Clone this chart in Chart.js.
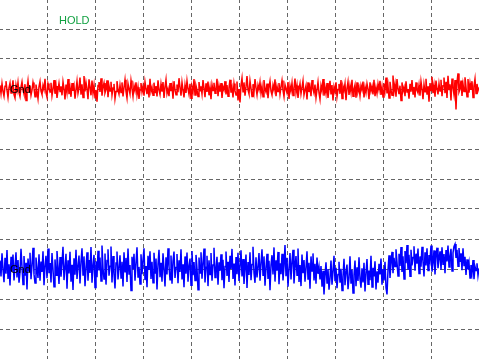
<!DOCTYPE html>
<html>
<head>
<meta charset="utf-8">
<script src="https://cdn.jsdelivr.net/npm/chart.js@4/dist/chart.umd.min.js"></script>
<style>
  html, body { margin: 0; padding: 0; background: #fff; overflow: hidden; }
  #wrap { position: absolute; left: -1px; top: -1px; width: 480px; height: 360px; }
</style>
</head>
<body>
<div id="wrap"><canvas id="scope"></canvas></div>
<script>
// screen: 10 horizontal divisions, 12 vertical divisions of 100 mV
const xDivs = 10;
const yMin = -600, yMax = 600, yStep = 100;
const sampleStep = xDivs / 480;

// CH1 samples (mV), red trace
const ch1 = [
  312, 285, 318, 292, 276, 309, 326, 296, 272, 305, 320, 287, 301, 329, 281, 270, 313, 294, 322, 288,
  275, 306, 324, 297, 283, 316, 262, 300, 327, 290, 311, 279, 296, 322, 303, 274, 315, 291, 268, 308,
  325, 293, 282, 312, 298, 334, 287, 273, 318, 304, 290, 321, 278, 300, 330, 284, 310, 270, 296, 319,
  292, 309, 279, 324, 301, 265, 315, 289, 333, 283, 305, 274, 320, 294, 311, 268, 298, 326, 286, 303,
  338, 281, 316, 272, 343, 292, 322, 300, 266, 332, 307, 279, 328, 286, 313, 271, 297, 258, 312, 323,
  290, 336, 278, 306, 320, 287, 298, 329, 273, 311, 293, 324, 280, 303, 317, 268, 292, 326, 297, 283,
  313, 288, 322, 275, 305, 331, 292, 270, 318, 300, 284, 328, 302, 276, 311, 294, 322, 281, 306, 267,
  297, 320, 290, 309, 278, 324, 300, 283, 314, 272, 334, 291, 305, 279, 321, 288, 310, 275, 329, 296,
  282, 317, 291, 323, 270, 307, 331, 285, 300, 276, 320, 293, 311, 268, 326, 297, 281, 315, 289, 336,
  305, 278, 322, 296, 272, 313, 287, 327, 300, 282, 317, 269, 307, 292, 333, 280, 311, 297, 275, 323,
  294, 309, 284, 330, 302, 273, 319, 290, 325, 279, 305, 266, 314, 295, 321, 286, 300, 334, 276, 311,
  291, 320, 270, 307, 297, 326, 282, 313, 276, 304, 331, 288, 305, 272, 318, 294, 280, 325, 262, 300,
  255, 312, 336, 291, 322, 278, 307, 343, 297, 284, 327, 302, 275, 316, 290, 333, 304, 281, 313, 298,
  323, 286, 309, 274, 330, 300, 290, 318, 269, 305, 326, 293, 280, 313, 297, 332, 276, 309, 292, 320,
  283, 307, 328, 296, 275, 314, 300, 287, 323, 267, 311, 293, 320, 278, 303, 335, 288, 312, 270, 300,
  318, 284, 305, 327, 280, 296, 311, 265, 322, 290, 307, 276, 330, 300, 286, 315, 271, 297, 323, 287,
  266, 311, 294, 333, 278, 306, 285, 320, 270, 300, 327, 282, 313, 262, 307, 291, 322, 274, 298, 317,
  284, 330, 268, 309, 296, 318, 263, 302, 324, 280, 311, 289, 331, 276, 300, 314, 271, 322, 291, 305,
  278, 312, 297, 325, 272, 307, 288, 318, 300, 266, 322, 293, 309, 282, 331, 276, 305, 285, 317, 297,
  327, 280, 307, 273, 318, 296, 338, 285, 311, 270, 324, 297, 279, 345, 292, 316, 274, 333, 300, 283,
  311, 262, 322, 293, 306, 276, 326, 290, 300, 268, 317, 291, 330, 283, 307, 272, 322, 296, 287, 313,
  278, 325, 300, 266, 315, 291, 334, 281, 309, 258, 320, 295, 341, 286, 313, 274, 328, 300, 282, 318,
  293, 331, 276, 311, 338, 286, 324, 270, 344, 298, 316, 262, 335, 305, 281, 330, 232, 322, 352, 290,
  300, 328, 277, 317, 292, 339, 306, 274, 333, 288, 320, 297, 326, 272, 311, 334, 285, 317, 294, 305
];

// CH2 samples (mV), blue trace
const ch2 = [
  -272, -325, -248, -301, -344, -263, -316, -237, -333, -284, -355, -259, -308, -252, -338, -290, -244, -328, -270, -346,
  -311, -233, -293, -352, -257, -322, -279, -368, -265, -306, -246, -334, -287, -229, -317, -347, -262, -299, -330, -251,
  -339, -275, -310, -241, -354, -289, -256, -331, -232, -314, -280, -345, -247, -302, -359, -268, -321, -240, -292, -350,
  -260, -326, -281, -226, -337, -295, -249, -366, -271, -315, -243, -342, -286, -370, -264, -319, -236, -333, -290, -255,
  -348, -276, -231, -320, -258, -357, -297, -244, -339, -270, -313, -227, -346, -288, -253, -362, -274, -327, -239, -305,
  -262, -340, -222, -298, -333, -248, -352, -272, -234, -322, -291, -225, -345, -257, -316, -365, -280, -242, -335, -296,
  -254, -330, -276, -358, -244, -309, -263, -343, -232, -319, -287, -372, -259, -301, -249, -339, -279, -228, -327, -293,
  -350, -251, -317, -270, -231, -337, -290, -361, -256, -303, -241, -333, -276, -346, -246, -313, -265, -368, -285, -236,
  -327, -279, -342, -248, -299, -358, -261, -318, -231, -291, -336, -255, -349, -274, -242, -330, -295, -250, -347, -271,
  -310, -234, -335, -284, -361, -258, -316, -245, -342, -289, -265, -354, -240, -321, -277, -338, -253, -298, -369, -262,
  -313, -244, -332, -280, -232, -345, -294, -256, -357, -271, -318, -247, -339, -287, -229, -328, -300, -259, -352, -278,
  -306, -251, -337, -269, -364, -292, -242, -323, -276, -343, -256, -300, -233, -333, -282, -355, -260, -317, -246, -340,
  -290, -238, -325, -267, -350, -297, -252, -363, -277, -320, -244, -337, -285, -226, -313, -346, -261, -328, -293, -247,
  -339, -279, -234, -321, -258, -356, -296, -249, -333, -273, -371, -287, -254, -318, -228, -342, -271, -306, -243, -351,
  -281, -317, -249, -338, -291, -220, -324, -263, -359, -299, -247, -335, -275, -236, -348, -294, -257, -321, -232, -343,
  -287, -357, -252, -314, -270, -342, -296, -241, -333, -279, -366, -258, -307, -248, -338, -283, -349, -262, -316, -292,
  -335, -290, -359, -306, -385, -322, -278, -347, -300, -369, -331, -272, -352, -307, -256, -341, -296, -364, -318, -276,
  -346, -299, -372, -325, -266, -354, -309, -285, -367, -330, -258, -349, -303, -380, -320, -272, -357, -294, -340, -261,
  -332, -362, -298, -345, -279, -375, -313, -267, -351, -305, -337, -256, -360, -296, -325, -274, -368, -308, -346, -283,
  -318, -265, -352, -300, -338, -276, -362, -385, -304, -254, -330, -280, -243, -314, -263, -292, -234, -278, -323, -249,
  -290, -227, -310, -258, -333, -240, -281, -220, -302, -253, -324, -236, -288, -262, -224, -306, -249, -282, -232, -315,
  -258, -292, -226, -275, -325, -244, -288, -231, -305, -253, -272, -222, -309, -280, -238, -318, -256, -229, -297, -266,
  -241, -302, -228, -284, -250, -314, -237, -275, -222, -293, -257, -233, -307, -246, -225, -217, -263, -236, -291, -230,
  -276, -248, -304, -231, -288, -259, -320, -268, -301, -279, -330, -287, -312, -270, -334, -292, -305, -281, -322, -298
];

// ground reference level of each channel (mV)
const gndLevels = [300, -300];
const statusText = 'HOLD';

function toPoints(samples) {
  return samples.map((v, i) => ({ x: (i + 1) * sampleStep, y: v }));
}

const overlay = {
  id: 'overlay',
  afterDatasetsDraw(chart) {
    const ctx = chart.ctx;
    const xs = chart.scales.x;
    const ys = chart.scales.y;
    ctx.save();
    ctx.textBaseline = 'middle';
    ctx.textAlign = 'left';
    ctx.font = '11px "Liberation Sans", Arial, sans-serif';
    ctx.fillStyle = '#000';
    gndLevels.forEach(level => {
      ctx.fillText('Gnd', xs.left + 11, ys.getPixelForValue(level) + 1);
    });
    ctx.fillStyle = '#10a040';
    ctx.fillText(statusText, xs.left + 60, ys.top + 21.5);
    ctx.restore();
  }
};

const gridStyle = {
  color: '#666666',
  lineWidth: 1,
  drawTicks: false
};

new Chart(document.getElementById('scope'), {
  type: 'line',
  data: {
    datasets: [
      { data: toPoints(ch1), borderColor: '#ff0000', borderWidth: 1.5, pointRadius: 0, tension: 0 },
      { data: toPoints(ch2), borderColor: '#0000ff', borderWidth: 1.5, pointRadius: 0, tension: 0 }
    ]
  },
  options: {
    responsive: true,
    maintainAspectRatio: false,
    animation: false,
    layout: { padding: 0 },
    plugins: { legend: { display: false }, tooltip: { enabled: false } },
    scales: {
      x: {
        type: 'linear',
        min: 0,
        max: xDivs,
        ticks: { display: false, stepSize: 1 },
        grid: gridStyle,
        border: { display: false, dash: [4, 3] }
      },
      y: {
        min: yMin,
        max: yMax,
        ticks: { display: false, stepSize: yStep },
        grid: gridStyle,
        border: { display: false, dash: [4, 3] }
      }
    }
  },
  plugins: [overlay]
});
</script>
</body>
</html>
